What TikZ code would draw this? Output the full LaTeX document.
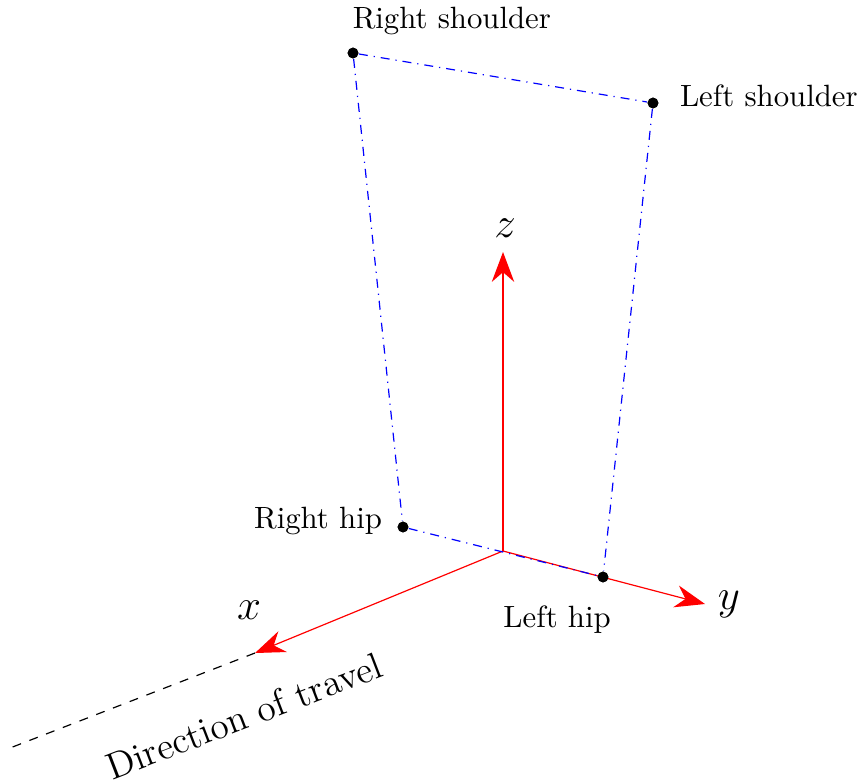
\documentclass[tikz,border=0pt]{standalone}
\usepackage{amsmath}
\usetikzlibrary{arrows.meta,positioning}

\begin{document}
\begin{tikzpicture}[
  x=0.01176cm, y=0.01176cm,
  >={Stealth[length=10pt,width=7.5pt]},
  node distance=2mm,
  axis/.style={->, red, line width=0.4pt},
  body/.style={blue, dashdotted, line width=0.4pt},
  joint/.style={circle, fill=black, inner sep=0pt, minimum size=3.6pt},
  jointlbl/.style={font=\fontsize{10.3pt}{12pt}\selectfont, inner sep=2pt},
  axislbl/.style={font=\Large, inner sep=2pt}
]
\useasboundingbox (0,0) rectangle (859,780);

% axes
\coordinate (O) at (503,229);
\coordinate (xtip) at (255,127);
\coordinate (ytip) at (705,176);
\coordinate (ztip) at (503,528);
\coordinate (travel) at (10,32);

\draw[axis] (O) -- (xtip);
\draw[axis] (O) -- (ytip);
\draw[axis] (O) -- (ztip);
\draw[dashed, line width=0.4pt] (xtip) -- (travel);

\node[axislbl] (xlbl) at (249,170) {$x$};
\node[axislbl] (ylbl) at (729,176) {$y$};
\node[axislbl] (zlbl) at (505,552) {$z$};
\node[rotate=21, font=\fontsize{12.5pt}{15pt}\selectfont] (travellbl) at (244,64) {Direction of travel};

% body points
\node[joint] (rs) at (353,727) {};
\node[joint] (ls) at (653,677) {};
\node[joint] (rh) at (403,253) {};
\node[joint] (lh) at (603,203) {};

\draw[body] (rs) -- (ls);
\draw[body] (rs) -- (rh);
\draw[body] (ls) -- (lh);
\draw[body] (rh) -- (lh);
\node[joint] at (rs) {};
\node[joint] at (ls) {};
\node[joint] at (rh) {};
\node[joint] at (lh) {};

\node[jointlbl, above right=0.9mm and -1.3mm of rs] (rslbl) {Right shoulder};
\node[jointlbl, right=1.7mm of ls, yshift=0.8mm] (lslbl) {Left shoulder};
\node[jointlbl, left=1mm of rh, yshift=0.7mm] (rhlbl) {Right hip};
\node[jointlbl, below=1.9mm of lh, xshift=-5.4mm] (lhlbl) {Left hip};
\end{tikzpicture}
\end{document}
